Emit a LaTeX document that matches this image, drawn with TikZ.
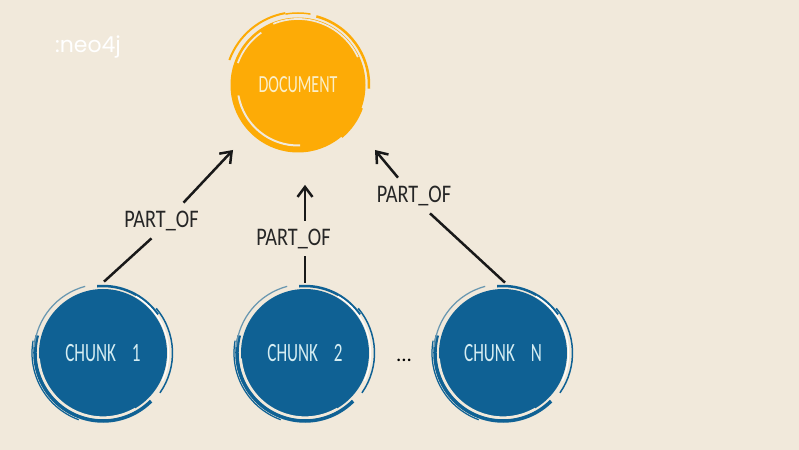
\documentclass[tikz,border=0pt]{standalone}
\usepackage{fontspec}
\setmainfont{Carlito}
\newfontfamily\logofont{Poppins}
\newfontfamily\nodefont[FakeStretch=0.65]{Carlito}
\newfontfamily\labelfont[FakeStretch=0.8]{Carlito}
\usetikzlibrary{arrows.meta}
\definecolor{paper}{HTML}{F1E9DB}
\definecolor{docorange}{HTML}{FDAB06}
\definecolor{chunkblue}{HTML}{0F6194}
\definecolor{chunktext}{HTML}{D5EDF2}
\definecolor{doctext}{HTML}{FBEFC8}
\tikzset{
    docnode/.style={circle,fill=docorange,text=doctext,minimum width=2.7cm,inner sep=0pt,font=\nodefont\fontsize{14}{14}\selectfont},
    chunknode/.style={circle,fill=chunkblue,text=chunktext,minimum width=2.56cm,inner sep=0pt,font=\nodefont\fontsize{15}{15}\selectfont},
    partlabel/.style={minimum width=1.5cm,minimum height=0.7cm,inner sep=0pt,text=black!85,font=\labelfont\fontsize{14.4}{14.4}\selectfont},
    link/.style={line width=0.5mm,color=black!90},
    linkarrow/.style={link,-{Straight Barb[length=2mm,width=3mm]}},
}
\begin{document}
\begin{tikzpicture}
    \fill[paper] (0,0) rectangle (15.98,9);
    \useasboundingbox (0,0) rectangle (15.98,9);

    \node (doc) at (5.96,7.3) [docnode] {DOCUMENT};
    \node (chunk1) at (2.06,1.94) [chunknode] {CHUNK\hspace{0.6em}1};
    \node (chunk2) at (6.1,1.94) [chunknode] {CHUNK\hspace{0.6em}2};
    \node (chunkN) at (10.06,1.94) [chunknode] {CHUNK\hspace{0.6em}N};
    \node (dots) at (8.08,1.8) [font=\large] {...};
    \node (logo) at (1.76,8.06) [text=white,font=\logofont\fontsize{12.5}{12.5}\selectfont] {:neo4j};

    \node (part1) at (3.23,4.59) [partlabel] {PART\_OF};
    \node (part2) at (5.87,4.23) [partlabel] {PART\_OF};
    \node (part3) at (8.28,5.09) [partlabel] {PART\_OF};

    % sketchy strokes round the document
    \draw[docorange,line width=0.5mm] ([shift={(-3:1.42)}]doc.center) arc[start angle=-3,end angle=75,radius=1.42];
    \draw[docorange,line width=0.3mm] ([shift={(80:1.44)}]doc.center) arc[start angle=80,end angle=100,radius=1.44];
    \draw[docorange,line width=0.4mm] ([shift={(100:1.46)}]doc.center) arc[start angle=100,end angle=160,radius=1.46];
    \draw[paper,line width=0.35mm] ([shift={(25:1.32)}]doc.center) arc[start angle=25,end angle=112,radius=1.32];
    \draw[paper,line width=0.35mm] ([shift={(125:1.28)}]doc.center) arc[start angle=125,end angle=160,radius=1.28];
    \draw[paper,line width=0.4mm] ([shift={(190:1.21)}]doc.center) arc[start angle=190,end angle=272,radius=1.21];
    \draw[docorange,line width=0.4mm] ([shift={(-50:1.36)}]doc.center) arc[start angle=-50,end angle=-20,radius=1.36];

    % sketchy strokes round the chunks
    \foreach \n in {chunk1,chunk2,chunkN}{
        \draw[chunkblue,line width=0.7mm] ([shift={(165:1.36)}]\n.center) arc[start angle=165,end angle=315,radius=1.36];
        \draw[chunkblue,line width=0.25mm] ([shift={(170:1.42)}]\n.center) arc[start angle=170,end angle=250,radius=1.42];
        \draw[chunkblue,line width=0.5mm] ([shift={(35:1.34)}]\n.center) arc[start angle=35,end angle=95,radius=1.34];
        \draw[chunkblue,line width=0.3mm] ([shift={(-35:1.39)}]\n.center) arc[start angle=-35,end angle=40,radius=1.39];
        \draw[chunkblue!60!paper,line width=0.25mm] ([shift={(105:1.38)}]\n.center) arc[start angle=105,end angle=175,radius=1.38];
        \draw[paper,line width=0.45mm] ([shift={(185:1.29)}]\n.center) arc[start angle=185,end angle=300,radius=1.29];
        \draw[white,line width=0.25mm] ([shift={(-25:1.31)}]\n.center) arc[start angle=-25,end angle=60,radius=1.31];
    }

    \draw[link] ([shift={(0.02,0.14)}]chunk1.north) to ([xshift=-0.2cm]part1.south);
    \draw[linkarrow] ([xshift=0.44cm]part1.north) to ([shift={(-1.3,-1.3)}]doc.center);
    \draw[link] ([yshift=0.12cm]chunk2.north) to (part2.south -| chunk2.north);
    \draw[linkarrow,shorten >=0.64cm] (part2.north -| chunk2.north) to (doc.south -| chunk2.north);
    \draw[link] ([shift={(0.04,0.12)}]chunkN.north) to ([xshift=0.32cm]part3.south);
    \draw[linkarrow] ([xshift=-0.32cm]part3.north) to ([shift={(1.54,-1.3)}]doc.center);

\end{tikzpicture}
\end{document}
